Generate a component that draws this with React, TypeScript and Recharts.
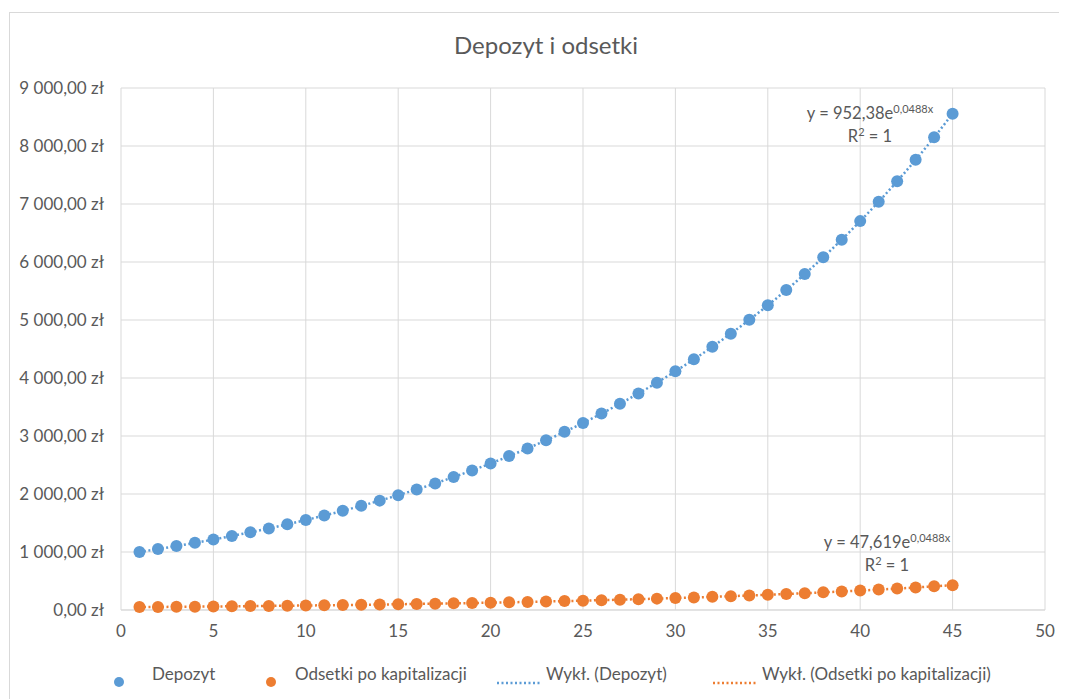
import { ComposedChart, Line, XAxis, YAxis, CartesianGrid } from 'recharts';

const years = [
  1, 2, 3, 4, 5, 6, 7, 8, 9, 10, 11, 12, 13, 14, 15, 16, 17, 18, 19, 20, 21, 22, 23,
  24, 25, 26, 27, 28, 29, 30, 31, 32, 33, 34, 35, 36, 37, 38, 39, 40, 41, 42, 43, 44, 45,
];

const depozyt = [
  1000.0, 1050.0, 1102.5, 1157.63, 1215.51, 1276.28, 1340.1, 1407.1, 1477.46, 1551.33,
  1628.89, 1710.34, 1795.86, 1885.65, 1979.93, 2078.93, 2182.87, 2292.02, 2406.62, 2526.95,
  2653.3, 2785.96, 2925.26, 3071.52, 3225.1, 3386.35, 3555.67, 3733.46, 3920.13, 4116.14,
  4321.94, 4538.04, 4764.94, 5003.19, 5253.35, 5516.02, 5791.82, 6081.41, 6385.48, 6704.75,
  7039.99, 7391.99, 7761.59, 8149.67, 8557.15,
];

const odsetki = [
  50.0, 52.5, 55.13, 57.88, 60.78, 63.81, 67.0, 70.36, 73.87, 77.57, 81.44, 85.52, 89.79,
  94.28, 99.0, 103.95, 109.14, 114.6, 120.33, 126.35, 132.66, 139.3, 146.26, 153.58, 161.26,
  169.32, 177.78, 186.67, 196.01, 205.81, 216.1, 226.9, 238.25, 250.16, 262.67, 275.8, 289.59,
  304.07, 319.27, 335.24, 352.0, 369.6, 388.08, 407.48, 427.86,
];

const xTicks = [0, 5, 10, 15, 20, 25, 30, 35, 40, 45, 50];
const yTicks = [0, 1000, 2000, 3000, 4000, 5000, 6000, 7000, 8000, 9000];

const BLUE = '#5b9bd5';
const ORANGE = '#ed7d31';
const TEXT = '#595959';
const GRID = '#d9d9d9';
const FONT = 'Lato, "Open Sans", sans-serif';

const rows = years.map((x, i) => ({ x, depozyt: depozyt[i], odsetki: odsetki[i] }));

const formatZl = (v: number) => {
  const int = Math.floor(v).toString().replace(/\B(?=(\d{3})+(?!\d))/g, ' ');
  return `${int},00 zł`;
};

function Equation({ left, top, coef }: { left: number; top: number; coef: string }) {
  return (
    <div
      style={{
        position: 'absolute',
        left,
        top,
        width: 200,
        textAlign: 'center',
        fontSize: 16.5,
        lineHeight: '23px',
        color: TEXT,
        fontFamily: FONT,
      }}
    >
      <div>
        y = {coef}e<sup style={{ fontSize: 11, verticalAlign: 6, lineHeight: 0 }}>0,0488x</sup>
      </div>
      <div>
        R<sup style={{ fontSize: 11, verticalAlign: 6, lineHeight: 0 }}>2</sup> = 1
      </div>
    </div>
  );
}

function LegendDot({ color }: { color: string }) {
  return (
    <span
      style={{
        display: 'inline-block',
        width: 10,
        height: 10,
        borderRadius: 5,
        background: color,
      }}
    />
  );
}

function LegendLine({ color }: { color: string }) {
  return (
    <svg width={44} height={6} style={{ display: 'inline-block' }}>
      <line x1={0} y1={3} x2={44} y2={3} stroke={color} strokeWidth={2.5} strokeDasharray="2 2.5" />
    </svg>
  );
}

export default function App() {
  return (
    <div
      style={{
        position: 'relative',
        marginLeft: 1,
        marginTop: 4,
        width: 1060,
        height: 700,
        borderTop: `1px solid ${GRID}`,
        borderLeft: `1px solid ${GRID}`,
        background: '#fff',
        fontFamily: FONT,
      }}
    >
      <div
        style={{
          position: 'absolute',
          left: 336,
          top: 18,
          width: 400,
          textAlign: 'center',
          fontSize: 24,
          lineHeight: '28px',
          color: TEXT,
        }}
      >
        Depozyt i odsetki
      </div>

      <ComposedChart
        width={1057}
        height={686}
        data={rows}
        margin={{ top: 75, right: 22, left: 11, bottom: 59 }}
      >
        <CartesianGrid stroke={GRID} strokeWidth={1} />
        <XAxis
          dataKey="x"
          type="number"
          domain={[0, 50]}
          ticks={xTicks}
          height={30}
          tickLine={false}
          tickSize={6}
          tickMargin={9}
          axisLine={{ stroke: GRID }}
          tick={{ fill: TEXT, fontSize: 17, fontFamily: FONT }}
        />
        <YAxis
          type="number"
          domain={[0, 9000]}
          ticks={yTicks}
          width={100}
          tickLine={false}
          axisLine={false}
          tickSize={6}
          tickMargin={11}
          tickFormatter={formatZl}
          tick={{ fill: TEXT, fontSize: 17, fontFamily: FONT }}
        />
        <Line
          name="Depozyt"
          dataKey="depozyt"
          stroke="none"
          dot={{ r: 6, fill: BLUE, stroke: 'none' }}
          activeDot={false}
          isAnimationActive={false}
        />
        <Line
          name="Odsetki po kapitalizacji"
          dataKey="odsetki"
          stroke="none"
          dot={{ r: 6, fill: ORANGE, stroke: 'none' }}
          activeDot={false}
          isAnimationActive={false}
        />
        <Line
          name="Wykł. (Depozyt)"
          dataKey="depozyt"
          type="monotone"
          stroke={BLUE}
          strokeWidth={2.5}
          strokeDasharray="2 2.5"
          dot={false}
          activeDot={false}
          isAnimationActive={false}
        />
        <Line
          name="Wykł. (Odsetki po kapitalizacji)"
          dataKey="odsetki"
          type="monotone"
          stroke={ORANGE}
          strokeWidth={2.5}
          strokeDasharray="2 2.5"
          dot={false}
          activeDot={false}
          isAnimationActive={false}
        />
      </ComposedChart>

      <Equation left={760} top={89} coef="952,38" />
      <Equation left={777} top={518} coef="47,619" />

      <div
        style={{
          position: 'absolute',
          left: 0,
          top: 650,
          width: 1057,
          height: 22,
          fontSize: 17,
          color: TEXT,
        }}
      >
        <span style={{ position: 'absolute', left: 104, top: 7 }}><LegendDot color={BLUE} /></span>
        <span style={{ position: 'absolute', left: 142, top: 0 }}>Depozyt</span>
        <span style={{ position: 'absolute', left: 256, top: 7 }}><LegendDot color={ORANGE} /></span>
        <span style={{ position: 'absolute', left: 285, top: 0 }}>Odsetki po kapitalizacji</span>
        <span style={{ position: 'absolute', left: 487, top: 6 }}><LegendLine color={BLUE} /></span>
        <span style={{ position: 'absolute', left: 536, top: 0 }}>Wykł. (Depozyt)</span>
        <span style={{ position: 'absolute', left: 703, top: 6 }}><LegendLine color={ORANGE} /></span>
        <span style={{ position: 'absolute', left: 752, top: 0 }}>Wykł. (Odsetki po kapitalizacji)</span>
      </div>
    </div>
  );
}
